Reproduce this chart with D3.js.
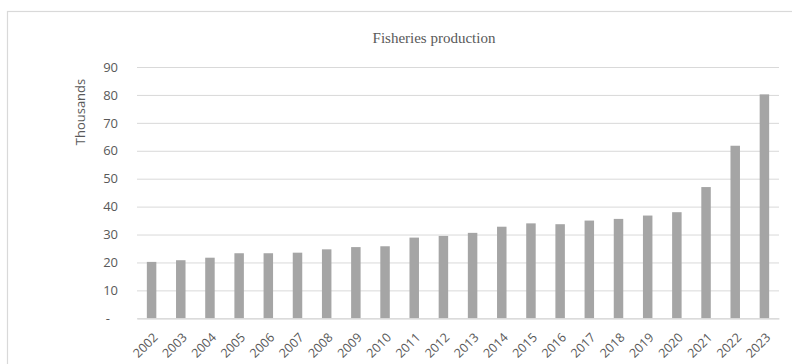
<!DOCTYPE html>
<html>
<head>
<meta charset="utf-8">
<script src="https://cdn.jsdelivr.net/npm/d3@7"></script>
<style>
  body { margin: 0; background: #fff; }
  svg { display: block; }
</style>
</head>
<body>
<div id="chart"></div>
<script>
// years shown on the x axis
const years = ['2002', '2003', '2004', '2005', '2006', '2007', '2008', '2009', '2010', '2011',
    '2012', '2013', '2014', '2015', '2016', '2017', '2018', '2019', '2020', '2021', '2022', '2023'];
// production, thousands
const production = [20.2, 20.8, 21.7, 23.3, 23.3, 23.5, 24.7, 25.5, 25.8, 28.9,
    29.5, 30.6, 32.8, 34.0, 33.7, 35.0, 35.6, 36.8, 38.0, 47.0, 61.8, 80.2];
const yTicks = [0, 10, 20, 30, 40, 50, 60, 70, 80, 90];

const width = 792, height = 364;
const plot = { left: 137, right: 779, top: 67, bottom: 318.3 };

const svg = d3.select('#chart').append('svg')
    .attr('width', width)
    .attr('height', height);

// chart frame (continues past the right and bottom edge)
svg.append('rect')
    .attr('x', 7.5).attr('y', 11.5)
    .attr('width', 900).attr('height', 500)
    .attr('fill', '#fff')
    .attr('stroke', '#d9d9d9')
    .attr('stroke-width', 1.2);

const x = d3.scaleBand()
    .domain(years)
    .range([plot.left, plot.right])
    .paddingInner(0.675)
    .paddingOuter(0.3375);

const y = d3.scaleLinear()
    .domain([0, 90])
    .range([plot.bottom, plot.top]);

// gridlines + y labels
const yAxis = d3.axisLeft(y)
    .tickValues(yTicks)
    .tickSize(-(plot.right - plot.left))
    .tickPadding(19)
    .tickFormat(d => d === 0 ? '-' : d);

const gy = svg.append('g')
    .attr('transform', `translate(${plot.left},0)`)
    .call(yAxis);
gy.select('.domain').remove();
gy.selectAll('.tick line')
    .attr('stroke', '#d9d9d9')
    .attr('stroke-width', 1);
gy.selectAll('.tick text')
    .attr('fill', '#595959')
    .style('font-family', '"Open Sans", "Liberation Sans", sans-serif')
    .style('font-size', '13px');
gy.selectAll('.tick').filter(d => d === 0).select('text')
    .attr('dx', -8);

// bars
svg.append('g')
    .selectAll('rect')
    .data(production)
    .enter()
    .append('rect')
    .attr('x', (d, i) => x(years[i]))
    .attr('y', d => y(d))
    .attr('width', x.bandwidth())
    .attr('height', d => y(0) - y(d))
    .attr('fill', '#a5a5a5');

// x axis
const xAxis = d3.axisBottom(x).tickSize(0).tickPadding(0);
const gx = svg.append('g')
    .attr('transform', `translate(0,${plot.bottom})`)
    .call(xAxis);
gx.select('.domain')
    .attr('stroke', '#d9d9d9')
    .attr('stroke-width', 1.2);
gx.selectAll('.tick text')
    .attr('fill', '#595959')
    .style('font-family', '"Open Sans", "Liberation Sans", sans-serif')
    .style('font-size', '12.5px')
    .attr('text-anchor', 'end')
    .attr('dy', 0)
    .attr('transform', 'translate(7,20) rotate(-45)');

// title
svg.append('text')
    .attr('x', 434)
    .attr('y', 43)
    .attr('text-anchor', 'middle')
    .attr('fill', '#595959')
    .style('font-family', '"Liberation Serif", "Times New Roman", serif')
    .style('font-size', '15px')
    .text('Fisheries production');

// y axis label
svg.append('text')
    .attr('transform', 'translate(85,112) rotate(-90)')
    .attr('text-anchor', 'middle')
    .attr('fill', '#595959')
    .style('font-family', '"Open Sans", "Liberation Sans", sans-serif')
    .style('font-size', '13px')
    .text('Thousands');
</script>
</body>
</html>
